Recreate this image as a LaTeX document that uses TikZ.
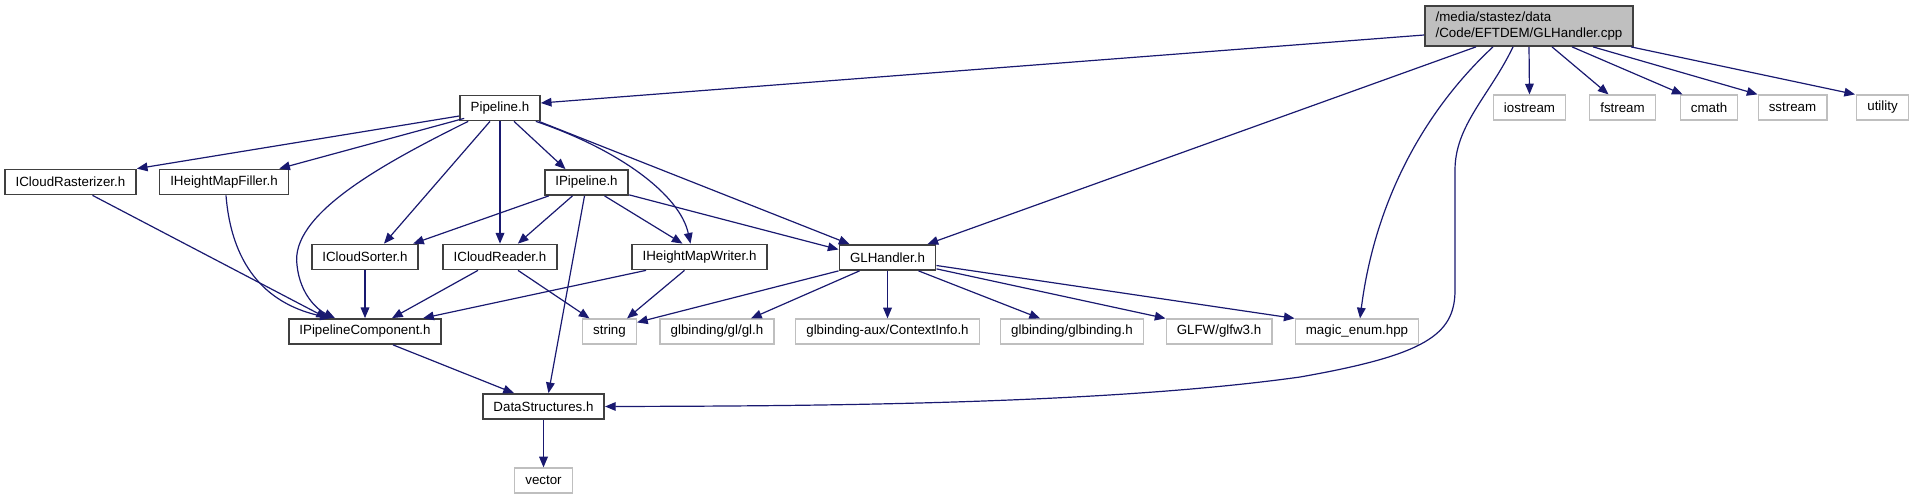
\documentclass[tikz,border=0pt]{standalone}
\usepackage{fontspec}
\setmainfont{Liberation Sans}
\usetikzlibrary{arrows.meta,calc}

\definecolor{edgeblue}{RGB}{25,25,112}
\definecolor{boxgray}{RGB}{191,191,191}
\definecolor{boxdark}{RGB}{64,64,64}

\tikzset{every picture/.style={line width=0.75pt}}
\tikzset{
  hdr/.style={draw=boxdark,line width=1.3pt,fill=white,inner xsep=8pt,inner ysep=0pt,minimum height=18.75pt,font=\fontsize{10}{12}\selectfont},
  syshdr/.style={draw=boxgray,line width=0.9pt,fill=white,inner xsep=8pt,inner ysep=0pt,minimum height=18.75pt,font=\fontsize{10}{12}\selectfont},
  roothdr/.style={draw=boxdark,line width=1.3pt,fill=boxgray,inner xsep=8pt,minimum width=156pt,minimum height=30pt,align=left,font=\fontsize{10}{12}\selectfont},
  dep/.style={draw=edgeblue,line width=0.9pt,-{Triangle[length=8pt,width=6.5pt]}}
}

\begin{document}
\begin{tikzpicture}[x=0.75pt,y=0.75pt,yscale=-1,xscale=1]
\useasboundingbox (0,0) rectangle (1915,500); %diagram is 1915 x 500

%Root file
\node [roothdr] (root) at (1529,26) {/media/stastez/data\\/Code/EFTDEM/GLHandler.cpp};

%System headers, top row
\node [syshdr] (iostream) at (1529.5,107.5) {iostream};
\node [syshdr] (fstream) at (1622.5,107.5) {fstream};
\node [syshdr] (cmath) at (1709,107.5) {cmath};
\node [syshdr] (sstream) at (1792.5,107.5) {sstream};
\node [syshdr] (utility) at (1882.5,107.5) {utility};

%Project headers
\node [hdr] (pipeline) at (500,108) {Pipeline.h};
\node [hdr] (rasterizer) at (70.5,182) {ICloudRasterizer.h};
\node [hdr] (filler) at (224,182) {IHeightMapFiller.h};
\node [hdr] (ipipeline) at (586.5,182.5) {IPipeline.h};
\node [hdr] (sorter) at (365,257) {ICloudSorter.h};
\node [hdr] (reader) at (500,257) {ICloudReader.h};
\node [hdr] (writer) at (699.5,257) {IHeightMapWriter.h};
\node [hdr] (glhandler) at (887.5,257.5) {GLHandler.h};
\node [hdr] (component) at (365,331.5) {IPipelineComponent.h};
\node [hdr] (datastructures) at (543.5,406.5) {DataStructures.h};

%System headers, lower rows
\node [syshdr] (string) at (609.5,331.5) {string};
\node [syshdr] (gl) at (717,331.5) {glbinding/gl/gl.h};
\node [syshdr] (ctxinfo) at (887.5,331.5) {glbinding-aux/ContextInfo.h};
\node [syshdr] (glbinding) at (1072,331.5) {glbinding/glbinding.h};
\node [syshdr] (glfw) at (1219,331.5) {GLFW/glfw3.h};
\node [syshdr] (magic) at (1357,331.5) {magic\_enum.hpp};
\node [syshdr] (vector) at (543.5,480.5) {vector};

%Edges from the root
\draw [dep] ($(root.west)+(0,9)$) -- ($(pipeline.east)+(0,-5)$);
\draw [dep] (root.south) -- (iostream.north);
\draw [dep] ($(root.south)+(23,0)$) -- ($(fstream.north)+(-14,0)$);
\draw [dep] ($(root.south)+(43,0)$) -- ($(cmath.north west)+(3,0)$);
\draw [dep] ($(root.south)+(64,0)$) -- (sstream.north west);
\draw [dep] ($(root.south east)+(-3,0)$) -- ($(utility.north west)+(-1,0)$);
\draw [dep] ($(root.south)+(-53,0)$) -- ($(glhandler.north)+(40,0)$);
\draw [dep] ($(root.south)+(-36,0)$) .. controls (1425,110) and (1375,200) .. ($(magic.north)+(3,0)$);
\draw [dep] ($(root.south)+(-16,0)$) .. controls (1490,95) and (1455,125) .. (1455,170) -- (1455,290) .. controls (1455,335) and (1425,355) .. (1300,377) .. controls (1100,405) and (800,406) .. (datastructures.east);

%Edges from Pipeline.h
\draw [dep] ($(pipeline.west)+(0,8)$) -- (rasterizer.north east);
\draw [dep] ($(pipeline.south west)+(5,-3)$) -- ($(filler.north east)+(-10,0)$);
\draw [dep] ($(pipeline.south west)+(9,0)$) .. controls (380,165) and (290,215) .. (297,265) .. controls (300,295) and (318,310) .. ($(component.north)+(-30,0)$);
\draw [dep] ($(pipeline.south)+(-10,0)$) -- ($(sorter.north)+(19,0)$);
\draw [dep] (pipeline.south) -- (reader.north);
\draw [dep] ($(pipeline.south)+(14,0)$) -- ($(ipipeline.north)+(-21,0)$);
\draw [dep] ($(pipeline.south east)+(-5,0)$) .. controls (620,150) and (680,195) .. ($(writer.north)+(-9,0)$);
\draw [dep] ($(pipeline.south east)+(-2,0)$) -- ($(glhandler.north west)+(11,0)$);

%Edges from IPipeline.h
\draw [dep] ($(ipipeline.south west)+(5,0)$) -- ($(sorter.north east)+(-6,0)$);
\draw [dep] ($(ipipeline.south)+(-14,0)$) -- ($(reader.north east)+(-40,0)$);
\draw [dep] ($(ipipeline.south)+(18,0)$) -- ($(writer.north)+(-17,0)$);
\draw [dep] ($(ipipeline.south east)+(0,-1)$) -- ($(glhandler.west)+(0,-8)$);
\draw [dep] ($(ipipeline.south)+(-2,0)$) -- ($(datastructures.north)+(5,0)$);

%Edges into IPipelineComponent.h and string
\draw [dep] ($(rasterizer.south)+(22,0)$) -- ($(component.north)+(-38,0)$);
\draw [dep] ($(filler.south)+(2,0)$) .. controls (232,270) and (270,305) .. ($(component.north)+(-34,0)$);
\draw [dep] (sorter.south) -- (component.north);
\draw [dep] ($(reader.south)+(-22,0)$) -- ($(component.north)+(27,0)$);
\draw [dep] ($(reader.south)+(18,0)$) -- ($(string.north)+(-20,0)$);
\draw [dep] ($(writer.south west)+(15,0)$) -- ($(component.north east)+(-19,0)$);
\draw [dep] ($(writer.south)+(-15,0)$) -- ($(string.north east)+(-10,0)$);

%Edges from GLHandler.h
\draw [dep] (glhandler.south west) -- ($(string.north east)+(0,4)$);
\draw [dep] ($(glhandler.south west)+(21,0)$) -- ($(gl.north)+(34,0)$);
\draw [dep] (glhandler.south) -- (ctxinfo.north);
\draw [dep] ($(glhandler.south)+(31,0)$) -- ($(glbinding.north)+(-32,0)$);
\draw [dep] ($(glhandler.south east)+(0,-2)$) -- (glfw.north west);
\draw [dep] ($(glhandler.east)+(0,8)$) -- (magic.north west);

%Lower edges
\draw [dep] ($(component.south)+(28,0)$) -- ($(datastructures.north west)+(32,0)$);
\draw [dep] (datastructures.south) -- (vector.north);

\end{tikzpicture}
\end{document}
